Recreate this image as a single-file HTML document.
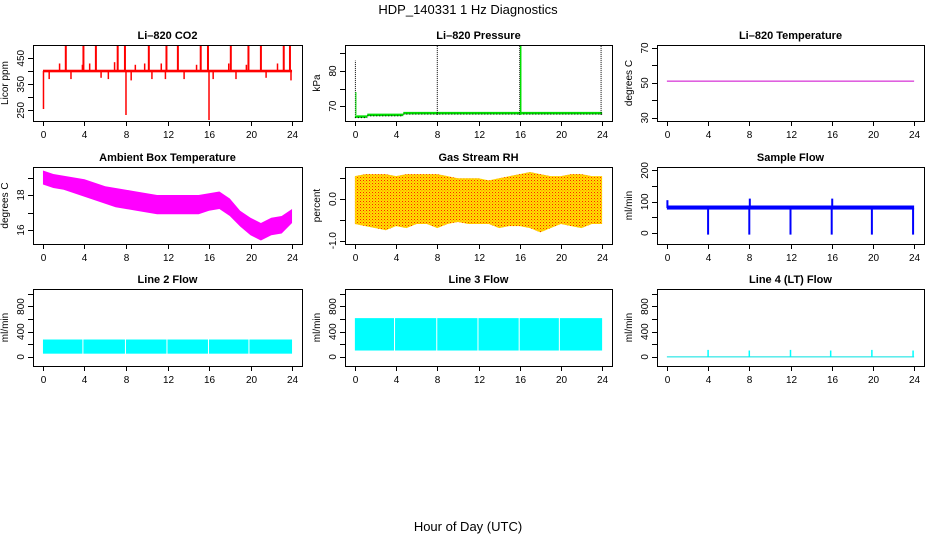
<!DOCTYPE html>
<html><head><meta charset="utf-8">
<style>
html,body{margin:0;padding:0;background:#fff;}
svg{display:block;font-family:"Liberation Sans",Arial,sans-serif;}
</style></head>
<body>
<svg id="chart" width="936" height="540" viewBox="0 0 936 540" xmlns="http://www.w3.org/2000/svg">
<defs>
<pattern id="rhpat" width="3" height="3" patternUnits="userSpaceOnUse">
<rect width="3" height="3" fill="#ffdd00"/>
<rect x="0" y="0" width="1" height="1" fill="#ff2200"/>
<rect x="1.5" y="1.5" width="0.8" height="0.8" fill="#ff4400"/>
</pattern>
</defs>
<text x="468" y="14" text-anchor="middle" font-size="13">HDP_140331 1 Hz Diagnostics</text>
<text x="468" y="531" text-anchor="middle" font-size="13">Hour of Day (UTC)</text>
</svg>
<script>
// ---- shared x axis ----
const xTicks = [0,4,8,12,16,20,24];
// ---- Li-820 CO2 ----
const co2Base = [396, 406];
const co2SpikeHours = [2.2,3.9,5.1,7.2,7.9,10.2,11.9,13.0,15.2,15.9,18.1,19.8,21.0,23.2,23.8,1.6,3.8,4.5,6.9,8.9,9.8,11.4,14.8,17.9,19.6,22.6,0.6,2.7,5.6,6.3,8.5,10.5,11.8,13.6,16.4,18.6,21.5,23.9,0.05,8.0,16.0];
const co2SpikeVals  = [500,500,500,500,500,500,500,500,500,500,500,500,500,500,500,430,425,430,435,425,430,430,425,430,425,430,370,370,375,370,365,370,370,370,370,370,375,365,255,232,210];
// ---- Li-820 Pressure ----
const presHours = [0,1.2,4.7,24];
const presVals = [67,67.5,68,68];
const presSpikeHours = [0.05,0.1,8.0,16.0,23.9];
const presSpikeVals = [83,74,87.5,87.5,87.2];
// ---- Li-820 Temperature ----
const licorTempHours = [0,24];
const licorTempVals = [51,51];
// ---- Ambient box temperature ----
const ambHours = [0,1,2,3,4,5,6,7,8,9,10,11,12,13,14,15,16,17,18,19,20,21,22,23,24];
const ambHi = [19.4,19.2,19.1,19.0,18.9,18.7,18.5,18.4,18.3,18.2,18.1,18.0,18.0,18.0,18.0,18.0,18.1,18.2,17.8,17.1,16.7,16.4,16.7,16.8,17.2];
const ambLo = [18.6,18.4,18.3,18.1,17.9,17.7,17.5,17.3,17.2,17.1,17.0,16.9,16.9,16.9,16.9,16.9,17.1,17.2,16.8,16.2,15.7,15.4,15.7,15.8,16.4];
// ---- Gas stream RH ----
const rhHours = [0,1,2,3,4,5,6,7,8,9,10,11,12,13,14,15,16,17,18,19,20,21,22,23,24];
const rhHi = [0.55,0.6,0.6,0.6,0.55,0.6,0.6,0.6,0.6,0.55,0.5,0.5,0.5,0.45,0.5,0.55,0.6,0.65,0.6,0.55,0.55,0.6,0.6,0.55,0.55];
const rhLo = [-0.6,-0.65,-0.7,-0.75,-0.65,-0.7,-0.6,-0.6,-0.7,-0.6,-0.55,-0.6,-0.6,-0.6,-0.7,-0.65,-0.65,-0.7,-0.8,-0.7,-0.6,-0.65,-0.7,-0.6,-0.6];
// ---- Sample flow ----
const sfBand = [75, 88];
const sfSpikeHours = [4.0,8.0,12.0,16.0,19.9,23.9,8.05,16.05,0.05];
const sfSpikeVals = [-5,-5,-5,-5,-5,-5,110,110,105];
// ---- Line 2 flow ----
const l2Band = [50, 275];
const l2GapHours = [3.8,7.9,11.9,15.9,19.8];
// ---- Line 3 flow ----
const l3Band = [100, 615];
const l3GapHours = [3.8,7.9,11.9,15.9,19.8];
// ---- Line 4 flow ----
const l4Base = 0;
const l4SpikeHours = [4.0,8.0,12.0,15.9,19.9,23.9];
const l4SpikeVals = [110,100,110,100,110,100];

const NS = "http://www.w3.org/2000/svg";
const svg = document.getElementById('chart');
function el(tag, attrs, parent){
  const e = document.createElementNS(NS, tag);
  for (const k in attrs) e.setAttribute(k, attrs[k]);
  (parent||svg).appendChild(e);
  return e;
}
const cols = [[33,302],[345,612],[657,924]];
const rows = [[45,121],[167,244],[289,366]];

function panel(ci, ri, title, ylab, ydom, yticks, ylabels, name){
  const [x0,x1] = cols[ci], [y0,y1] = rows[ri];
  const g = el('g', {});
  
  
  const sx = v => x0 + (v + 0.96) / 25.92 * (x1 - x0);
  const sy = v => y1 - (v - ydom[0]) / (ydom[1] - ydom[0]) * (y1 - y0);
  const t = el('text', {x:(x0+x1)/2, y:y0-6, 'text-anchor':'middle', 'font-size':11, 'font-weight':'bold'}, g);
  t.textContent = title;
  
  
  const yl = el('text', {x:x0-25, y:(y0+y1)/2, 'text-anchor':'middle', 'font-size':10, transform:`rotate(-90 ${x0-25} ${(y0+y1)/2})`}, g);
  yl.textContent = ylab;
  
  
  const xa = el('g', {}, g);
  
  
  el('line', {x1:sx(0), x2:sx(24), y1:y1+0.5, y2:y1+0.5, stroke:'#000'}, xa);
  xTicks.forEach(v => {
    const X = Math.round(sx(v))+0.5;
    el('line', {x1:X, x2:X, y1:y1, y2:y1+5, stroke:'#000'}, xa);
    const tl = el('text', {x:X, y:y1+17, 'text-anchor':'middle', 'font-size':10}, xa);
    tl.textContent = v;
    
    
  });
  const ya = el('g', {}, g);
  
  
  el('line', {x1:x0+0.5, x2:x0+0.5, y1:sy(yticks[0]), y2:sy(yticks[yticks.length-1]), stroke:'#000'}, ya);
  yticks.forEach(v => {
    const Y = Math.round(sy(v))+0.5;
    el('line', {x1:x0-5, x2:x0, y1:Y, y2:Y, stroke:'#000'}, ya);
  });
  ylabels.forEach(v => {
    const Y = sy(v), X = x0-9;
    const tl = el('text', {x:X, y:Y, 'text-anchor':'middle', 'font-size':10, transform:`rotate(-90 ${X} ${Y})`}, ya);
    tl.textContent = v;
    
    
  });
  const data = el('g', {}, g);
  
  
  return {g, data, sx, sy, x0, x1, y0, y1, finish(){
    el('rect', {x:x0+0.5, y:y0+0.5, width:x1-x0, height:y1-y0, fill:'none', stroke:'#000'}, g);
  }};
}
function bandPoly(p, hours, hi, lo, fill, parent){
  let pts = hours.map((h,i)=>p.sx(h)+','+p.sy(hi[i]));
  for (let i=hours.length-1;i>=0;i--) pts.push(p.sx(hours[i])+','+p.sy(lo[i]));
  return el('polygon', {points:pts.join(' '), fill:fill}, parent);
}
function clipY(p,v){ return Math.max(p.y0+1, Math.min(p.y1-1, p.sy(v))); }

// CO2
let p = panel(0,0,'Li\u2013820 CO2','Licor ppm',[209,501],[250,300,350,400,450],[250,350,450],'co2');
let r = el('rect', {x:p.sx(0), y:p.sy(co2Base[1]), width:p.sx(24)-p.sx(0), height:p.sy(co2Base[0])-p.sy(co2Base[1]), fill:'#ff0000'}, p.data);


co2SpikeHours.forEach((h,i)=>{
  const s = el('line', {x1:p.sx(h), x2:p.sx(h), y1:p.sy(401), y2:clipY(p,co2SpikeVals[i]), stroke:'#ff0000', 'stroke-width':co2SpikeVals[i]>480?2:1.5}, p.data);
  
  
});
p.finish();

// Pressure
p = panel(1,0,'Li\u2013820 Pressure','kPa',[65.75,87.4],[70,75,80,85],[70,80],'pressure');
for (let i=0;i<presHours.length-1;i++){
  const s = el('line', {x1:p.sx(presHours[i]), x2:p.sx(presHours[i+1]), y1:p.sy(presVals[i]), y2:p.sy(presVals[i]), stroke:'#00dd00', 'stroke-width':2.5}, p.data);
  
  
  const d = el('line', {x1:p.sx(presHours[i]), x2:p.sx(presHours[i+1]), y1:p.sy(presVals[i])+1, y2:p.sy(presVals[i])+1, stroke:'#000', 'stroke-width':1, 'stroke-dasharray':'1,2'}, p.data);
  
  
}
presSpikeHours.forEach((h,i)=>{
  const s = el('line', {x1:p.sx(h), x2:p.sx(h), y1:p.sy(67.5), y2:clipY(p,presSpikeVals[i]), stroke: i===1?'#00dd00':'#000', 'stroke-width':1, 'stroke-dasharray': i===1?'':'1,1'}, p.data);
  
  
  if (i===3){ const s2 = el('line', {x1:p.sx(h)+1, x2:p.sx(h)+1, y1:p.sy(67.5), y2:clipY(p,presSpikeVals[i]), stroke:'#00dd00', 'stroke-width':1.5}, p.data);
    
     }
});
p.finish();

// Li-820 temperature
p = panel(2,0,'Li\u2013820 Temperature','degrees C',[28.2,71.7],[30,40,50,60,70],[30,50,70],'licor-temp');
r = el('line', {x1:p.sx(licorTempHours[0]), x2:p.sx(licorTempHours[1]), y1:p.sy(licorTempVals[0]), y2:p.sy(licorTempVals[1]), stroke:'#cc00cc', 'stroke-width':1}, p.data);


p.finish();

// Ambient
p = panel(0,1,'Ambient Box Temperature','degrees C',[15.2,19.6],[16,17,18,19],[16,18],'ambient-temp');
r = bandPoly(p, ambHours, ambHi, ambLo, '#ff00ff', p.data);


p.finish();

// RH
p = panel(1,1,'Gas Stream RH','percent',[-1.08,0.77],[-1.0,-0.5,0,0.5],['-1.0','0.0'],'rh');
r = bandPoly(p, rhHours, rhHi, rhLo, 'url(#rhpat)', p.data);


p.finish();

// Sample flow
p = panel(2,1,'Sample Flow','ml/min',[-35,211],[0,50,100,150,200],[0,100,200],'sample-flow');
r = el('rect', {x:p.sx(0), y:p.sy(sfBand[1]), width:p.sx(24)-p.sx(0), height:p.sy(sfBand[0])-p.sy(sfBand[1]), fill:'#0000ff'}, p.data);


sfSpikeHours.forEach((h,i)=>{
  const s = el('line', {x1:p.sx(h), x2:p.sx(h), y1:p.sy(80), y2:p.sy(sfSpikeVals[i]), stroke:'#0000ff', 'stroke-width':2}, p.data);
  
  
});
p.finish();

function gapBand(p, band, gaps, name){
  const edges = [0].concat(gaps, [24]);
  for (let i=0;i<edges.length-1;i++){
    const a = p.sx(edges[i]) + (i>0?1:0), b = p.sx(edges[i+1]);
    const s = el('rect', {x:a, y:p.sy(band[1]), width:b-a, height:p.sy(band[0])-p.sy(band[1]), fill:'#00ffff'}, p.data);
    
    
  }
}
// Line 2
p = panel(0,2,'Line 2 Flow','ml/min',[-146,1078],[0,200,400,600,800,1000],[0,400,800],'line2-flow');
gapBand(p, l2Band, l2GapHours, 'line2-flow-band');
p.finish();
// Line 3
p = panel(1,2,'Line 3 Flow','ml/min',[-146,1078],[0,200,400,600,800,1000],[0,400,800],'line3-flow');
gapBand(p, l3Band, l3GapHours, 'line3-flow-band');
p.finish();
// Line 4
p = panel(2,2,'Line 4 (LT) Flow','ml/min',[-146,1078],[0,200,400,600,800,1000],[0,400,800],'line4-flow');
r = el('line', {x1:p.sx(0), x2:p.sx(24), y1:p.sy(l4Base), y2:p.sy(l4Base), stroke:'#00e0e0', 'stroke-width':1}, p.data);


l4SpikeHours.forEach((h,i)=>{
  const s = el('line', {x1:p.sx(h), x2:p.sx(h), y1:p.sy(l4Base), y2:p.sy(l4SpikeVals[i]), stroke:'#00ffff', 'stroke-width':1.5}, p.data);
  
  
});
p.finish();
</script>
</body></html>
